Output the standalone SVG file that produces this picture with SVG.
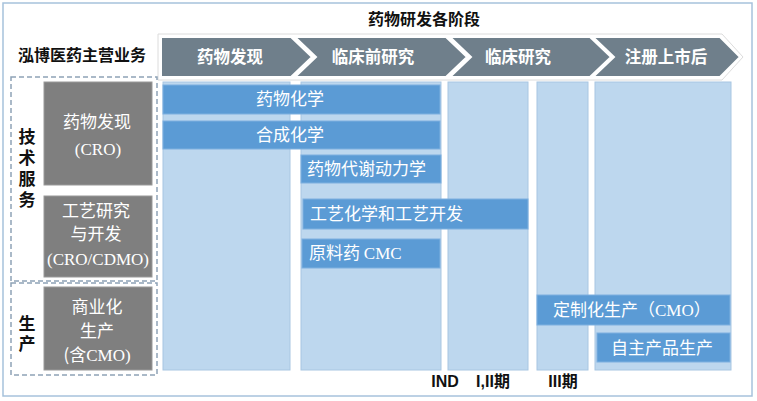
<svg xmlns="http://www.w3.org/2000/svg" width="757" height="401" viewBox="0 0 757 401">
<style>
.cjk{font-family:"Noto Sans CJK SC","Liberation Sans",sans-serif}
.ser{font-family:"Liberation Serif","Noto Sans CJK SC",serif}
.hdr{font-size:16px;font-weight:bold;fill:#111}
.chev{fill:#6f7f8b;stroke:#fff;stroke-width:2}
.chl{font-size:16.5px;font-weight:bold;fill:#fff;text-anchor:middle}
.col{fill:#bdd7ee;stroke:#a8c6e2;stroke-width:1}
.bar{fill:#5b9bd5;stroke:#7eb0df;stroke-width:1}
.bt{font-size:17px;fill:#fff}
.gbox{fill:#7f7f7f;stroke:#9a9a9a;stroke-width:1}
.gt{font-size:17px;fill:#fff;text-anchor:middle}
.dash{fill:none;stroke:#8ea3b6;stroke-width:1.5;stroke-dasharray:5,3}
.vt{font-size:17px;font-weight:bold;fill:#111;writing-mode:vertical-rl;text-anchor:start}
.bl{font-family:"Liberation Sans","Noto Sans CJK SC",sans-serif;font-size:16px;font-weight:bold;fill:#111;text-anchor:middle}
</style>
<rect x="0" y="0" width="757" height="401" fill="#fff"/>
<rect id="frame" x="3" y="3" width="749" height="393" fill="none" stroke="#a7c2dc" stroke-width="1.5"/>
<text class="cjk hdr" x="424" y="25" text-anchor="middle" font-size="16.5">药物研发各阶段</text>
<text class="cjk hdr" x="18" y="61">泓博医药主营业务</text>

<g id="phases">
<polygon points="158,34 722,34 743,57 722,80 158,80" fill="none" stroke="#dcdcdc" stroke-width="1"/>
<g id="phase1"><polygon class="chev" points="161,37 291,37 312,57 291,77 161,77"/><text class="cjk chl" x="230" y="63">药物发现</text></g>
<g id="phase2"><polygon class="chev" points="295,37 446,37 467,57 446,77 295,77 316,57"/><text class="cjk chl" x="373" y="63">临床前研究</text></g>
<g id="phase3"><polygon class="chev" points="450,37 590,37 611,57 590,77 450,77 471,57"/><text class="cjk chl" x="518" y="63">临床研究</text></g>
<g id="phase4"><polygon class="chev" points="593,37 720,37 740,57 720,77 593,77 614,57"/><text class="cjk chl" x="666" y="63">注册上市后</text></g>
</g>

<g id="columns">
<rect class="col" x="163" y="82" width="127" height="288"/>
<rect class="col" x="301" y="82" width="140" height="288"/>
<rect class="col" x="448" y="82" width="80" height="288"/>
<rect class="col" x="537" y="82" width="51" height="288"/>
<rect class="col" x="595" y="82" width="136" height="288"/>
</g>

<g id="bar-medchem"><rect class="bar" x="163" y="85" width="277" height="29"/><text class="cjk bt" x="290" y="105" text-anchor="middle">药物化学</text></g>
<g id="bar-synchem"><rect class="bar" x="163" y="121" width="277" height="28"/><text class="cjk bt" x="290" y="141" text-anchor="middle">合成化学</text></g>
<g id="bar-dmpk"><rect class="bar" x="301" y="155" width="140" height="28"/><text class="cjk bt" x="307" y="175">药物代谢动力学</text></g>
<g id="bar-process"><rect class="bar" x="303" y="199" width="225" height="30"/><text class="cjk bt" x="310" y="220">工艺化学和工艺开发</text></g>
<g id="bar-api"><rect class="bar" x="302" y="239" width="138" height="29"/><text class="cjk bt" x="309" y="259">原料药 <tspan class="ser">CMC</tspan></text></g>
<g id="bar-cmo"><rect class="bar" x="537" y="295" width="193" height="30"/><text class="cjk bt" x="553" y="316">定制化生产（<tspan class="ser">CMO</tspan>）</text></g>
<g id="bar-own"><rect class="bar" x="597" y="333" width="133" height="29"/><text class="cjk bt" x="662" y="354" text-anchor="middle">自主产品生产</text></g>

<g id="group-tech">
<rect class="dash" x="11" y="77" width="146" height="204"/>
<text class="cjk vt" x="27" y="128" letter-spacing="4">技术服务</text>
</g>
<g id="group-prod">
<rect class="dash" x="11" y="283" width="146" height="92"/>
<text class="cjk vt" x="27" y="315" letter-spacing="3">生产</text>
</g>

<g id="box-cro"><rect class="gbox" x="44" y="82" width="108" height="103"/>
<text class="cjk gt" x="97" y="128">药物发现</text>
<text class="ser gt" x="98" y="155">(CRO)</text></g>
<g id="box-cdmo"><rect class="gbox" x="44" y="196" width="108" height="81"/>
<text class="cjk gt" x="96" y="217">工艺研究</text>
<text class="cjk gt" x="96" y="240">与开发</text>
<text class="ser gt" x="98" y="265">(CRO/CDMO)</text></g>
<g id="box-cmo"><rect class="gbox" x="44" y="287" width="108" height="83"/>
<text class="cjk gt" x="97" y="313" font-size="16">商业化</text>
<text class="cjk gt" x="97" y="337" font-size="16">生产</text>
<text class="gt" x="97" y="361" font-size="16.5"><tspan class="cjk">(含</tspan><tspan class="ser">CMO)</tspan></text></g>

<g id="milestones">
<text class="bl" x="445" y="387">IND</text>
<text class="bl" x="493" y="387">I,II<tspan class="cjk">期</tspan></text>
<text class="bl" x="563" y="387">III<tspan class="cjk">期</tspan></text>
</g>
</svg>
